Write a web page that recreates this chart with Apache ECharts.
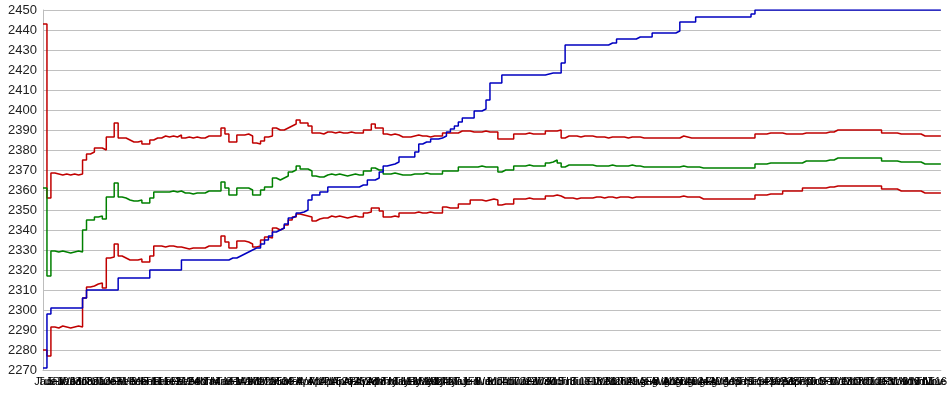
<!DOCTYPE html>
<html><head><meta charset="utf-8">
<script src="https://cdn.jsdelivr.net/npm/echarts@6/dist/echarts.min.js"></script>
<style>html,body{margin:0;padding:0;background:#fff}#c{width:950px;height:395px}</style>
</head><body><div id="c"></div>
<script>
const yTicks = {min: 2270, max: 2450, step: 10};

const blue = [
2271,2298,2301,2301,2301,2301,2301,2301,2301,2301,
2306,2310,2310,2310,2310,2310,2310,2310,2310,2316,
2316,2316,2316,2316,2316,2316,2316,2320,2320,2320,
2320,2320,2320,2320,2320,2325,2325,2325,2325,2325,
2325,2325,2325,2325,2325,2325,2325,2326,2326,2327,
2328,2329,2330,2331,2331,2333,2335,2337,2339,2340,
2341,2343,2346,2347,2348.5,2349,2350,2355,2357.5,2357.5,
2359,2359,2361.5,2361.5,2361.5,2361.5,2361.5,2361.5,2361.5,2361.5,
2362.5,2362.5,2365,2365,2366,2369,2372,2372.5,2373,2374,
2376.5,2376.5,2376.5,2376.5,2379,2383,2384,2384,2385.5,2385.5,
2386,2387,2389,2390.5,2392,2394,2396,2396,2396,2399.5,
2399.5,2400.5,2405,2413.5,2413.5,2413.5,2417.5,2417.5,2417.5,2417.5,
2417.5,2417.5,2417.5,2417.5,2417.5,2417.5,2417.5,2418,2418.5,2418.5,
2418.5,2423.5,2432.5,2432.5,2432.5,2432.5,2432.5,2432.5,2432.5,2432.5,
2432.5,2432.5,2432.5,2433.5,2433.5,2435.5,2435.5,2435.5,2435.5,2435.5,
2436.5,2436.5,2436.5,2436.5,2438.5,2438.5,2438.5,2438.5,2438.5,2438.5,
2439.5,2444,2444,2444,2444,2446.5,2446.5,2446.5,2446.5,2446.5,
2446.5,2446.5,2446.5,2446.5,2446.5,2446.5,2446.5,2446.5,2446.5,2448,
2450,2450,2450,2450,2450,2450,2450,2450,2450,2450,
2450,2450,2450,2450,2450,2450,2450,2450,2450,2450,
2450,2450,2450,2450,2450,2450,2450,2450,2450,2450,
2450,2450,2450,2450,2450,2450,2450,2450,2450,2450,
2450,2450,2450,2450,2450,2450,2450,2450
];

const upper = [
2443,2356,2368.5,2368,2367.5,2368,2367.5,2368,2367.5,2368,
2375,2378,2379,2381,2381,2380,2386.5,2386.5,2393.5,2386,
2386,2385,2384,2384,2384.5,2383,2383,2385,2386,2386,
2387,2386.5,2387,2386.5,2387.5,2386,2386.5,2386,2386.5,2386,
2386,2387,2387,2387,2387,2391,2388,2384,2384,2387.5,
2387.5,2388,2387,2383.5,2383,2384.5,2386.5,2387,2391,2390,
2390,2391,2392,2393,2395,2393.5,2393.5,2392,2388.5,2388.5,
2388,2389,2389,2388.5,2389,2388.5,2388.5,2389,2388.5,2388.5,
2388.5,2390,2390,2393,2391,2391,2388,2387.5,2388,2387.5,
2386.5,2386.5,2386.5,2387,2387.5,2387,2387,2386.5,2387,2387,
2387,2388.5,2388.5,2388.5,2388.5,2389.5,2389.5,2389.5,2389,2389,
2389,2389.5,2389,2389,2389,2385.5,2385.5,2385.5,2385.5,2388,
2388,2388,2388.5,2388,2388,2388,2388,2389.5,2389.5,2389.5,
2390,2386,2387,2387,2387,2386.5,2387,2387,2387,2386.5,
2386.5,2386.5,2386,2386.5,2386.5,2386.5,2386.5,2386,2386.5,2386.5,
2386.5,2386,2386,2386,2386,2386,2386,2386,2386,2386,
2386,2387,2386.5,2386,2386,2386,2386,2386,2386,2386,
2386,2386,2386,2386,2386,2386,2386,2386,2386,2386,
2388,2388,2388,2388.5,2388.5,2388.5,2388.5,2388,2388,2388,
2388,2388,2388.5,2388.5,2388.5,2388.5,2388.5,2388.5,2389,2389,
2390,2390,2390,2390,2390,2390,2390,2390,2390,2390,
2390,2390,2388.5,2388.5,2388.5,2388.5,2388,2388,2388,2388,
2388,2388,2387,2387,2387,2387,2387,2387
];

const middle = [
2361,2317,2329.5,2329,2329.5,2329,2328.5,2329,2329.5,2329,
2340,2345,2345,2346.5,2347,2345.5,2356.5,2356.5,2363.5,2356.5,
2356,2355,2354.5,2354.5,2355,2353.5,2353.5,2356,2359,2359,
2359,2359,2359.5,2359,2359.5,2358.5,2358.5,2358,2358.5,2358.5,
2358.5,2359.5,2359.5,2359.5,2359.5,2364,2361,2357.5,2357.5,2361,
2361,2361,2360,2357.5,2357.5,2360,2361.5,2361.5,2366,2365,
2366,2367,2369,2370,2372,2370.5,2370.5,2369.5,2367,2366.5,
2366.5,2367.5,2368,2367.5,2368,2367.5,2367,2367.5,2368,2367.5,
2367.5,2369.5,2369.5,2371,2370,2370,2368,2368,2368.5,2368,
2367.5,2367.5,2367.5,2368,2368,2368,2368.5,2368,2368,2368,
2368,2369.5,2369.5,2369.5,2369.5,2371.5,2371.5,2371.5,2371.5,2371.5,
2372,2371.5,2371.5,2371.5,2371.5,2369,2370,2370,2370,2372,
2372,2372,2372.5,2372,2372,2372,2372,2373.5,2374,2375,
2373.5,2371.5,2372.5,2372.5,2372.5,2372.5,2372.5,2372.5,2372.5,2372,
2372,2372,2372,2372.5,2372,2372,2372,2372,2372.5,2372,
2372,2371.5,2371.5,2371.5,2371.5,2371.5,2371.5,2371.5,2371.5,2371.5,
2371.5,2372,2371.5,2371.5,2371.5,2371.5,2371,2371,2371,2371,
2371,2371,2371,2371,2371,2371,2371,2371,2371,2371,
2373,2373,2373,2373.5,2373.5,2373.5,2373.5,2373.5,2373.5,2373.5,
2373.5,2373.5,2374.5,2374.5,2374.5,2374.5,2374.5,2374.5,2375,2375,
2376,2376,2376,2376,2376,2376,2376,2376,2376,2376,
2376,2376,2374.5,2374.5,2374.5,2374.5,2374,2374,2374,2374,
2374,2374,2373,2373,2373,2373,2373,2373
];

const lower = [
2280,2277,2291.5,2291,2292,2291.5,2291,2291.5,2292,2291.5,
2306,2311.5,2312,2313,2313.5,2311,2326,2326.5,2333,2327,
2326,2325,2325,2325,2325.5,2324,2324,2327,2332,2332,
2331.5,2332,2332,2331.5,2331.5,2331,2330.5,2331,2331,2331,
2331,2332,2332,2332,2332,2337,2334,2331,2331,2334.5,
2334.5,2334,2333,2331.5,2332,2335,2336.5,2336,2341,2340,
2341,2342.5,2345,2346.5,2348,2347.5,2347,2346.5,2344.5,2345.5,
2346,2346,2347,2346.5,2347,2346.5,2346,2346.5,2347,2346.5,
2346.5,2348.5,2349,2351,2351,2349.5,2346.5,2346.5,2347,2346.5,
2348.5,2348.5,2348.5,2348.5,2349,2348.5,2348.5,2349,2348.5,2348.5,
2348.5,2351.5,2351,2351,2351,2353,2353,2353,2355,2355,
2355,2354.5,2355,2355.5,2355,2352.5,2353,2353,2353,2355.5,
2355.5,2355.5,2356,2355.5,2355.5,2355.5,2355.5,2357,2357,2357.5,
2357,2356,2356,2356,2355.5,2356,2356,2356,2356,2356.5,
2356.5,2356,2356.5,2356.5,2356,2356.5,2356.5,2356.5,2356,2356.5,
2356.5,2356.5,2356.5,2356.5,2356.5,2356.5,2356.5,2356.5,2356.5,2356.5,
2356.5,2357,2356.5,2356.5,2356.5,2356.5,2355.5,2355.5,2355.5,2355.5,
2355.5,2355.5,2355.5,2355.5,2355.5,2355.5,2355.5,2355.5,2355.5,2355.5,
2357.5,2357.5,2357.5,2358,2358,2358,2358,2359.5,2359.5,2359.5,
2359.5,2359.5,2361,2361,2361,2361,2361,2361,2361.5,2361.5,
2362,2362,2362,2362,2362,2362,2362,2362,2362,2362,
2362,2362,2360.5,2360.5,2360.5,2360.5,2359.5,2359.5,2359.5,2359.5,
2359.5,2359.5,2358.5,2358.5,2358.5,2358.5,2358.5,2358.5
];

// category labels: trading-day dates
const monthNames = ['Jan','Feb','Mar','Apr','May','Jun','Jul','Aug','Sep','Oct','Nov','Dec'];
const dayNames = ['Sun','Mon','Tue','Wed','Thu','Fri','Sat'];
const categories = [];
(function(){
  const d = new Date(2011, 0, 3);
  while (categories.length < blue.length) {
    const wd = d.getDay();
    if (wd !== 0 && wd !== 6) {
      categories.push(monthNames[d.getMonth()] + ' ' + d.getDate() + ' ' + dayNames[wd]);
    }
    d.setDate(d.getDate() + 1);
  }
})();

const chart = echarts.init(document.getElementById('c'), null, {renderer: 'canvas'});
function mk(name, data, color) {
  return {
    name: name, type: 'line', data: data, step: 'end', symbol: 'none',
    lineStyle: {width: 1.5, color: color}, itemStyle: {color: color},
    animation: false, silent: true
  };
}
chart.setOption({
  animation: false,
  backgroundColor: '#ffffff',
  grid: {left: 43, right: 1, top: 10, bottom: 25, containLabel: false},
  xAxis: {
    type: 'category', boundaryGap: false, data: categories,
    axisLine: {show: true, lineStyle: {color: '#bdbdbd', width: 1}},
    axisTick: {show: false},
    axisLabel: {interval: 0, color: '#000', fontSize: 11, fontFamily: 'Liberation Sans, Arial, sans-serif', margin: 6, hideOverlap: false,
      formatter: function(v, i){ const p = v.split(' '); const k = i % 3; return k === 0 ? p[0] : (k === 1 ? p[2] : p[1]); }},
    splitLine: {show: false}
  },
  yAxis: {
    type: 'value', min: yTicks.min, max: yTicks.max, interval: yTicks.step,
    axisLine: {show: true, lineStyle: {color: '#bdbdbd', width: 1}},
    axisTick: {show: false},
    axisLabel: {color: '#222', fontSize: 13, fontFamily: 'Liberation Sans, Arial, sans-serif', margin: 6,
      formatter: function(v){ return String(v); }},
    splitLine: {show: true, lineStyle: {color: '#c0c0c0', width: 1}}
  },
  series: [
    mk('Upper', upper, '#c00000'),
    mk('Middle', middle, '#008000'),
    mk('Lower', lower, '#c00000'),
    mk('Price', blue, '#0000c0')
  ]
});
</script>
</body></html>
